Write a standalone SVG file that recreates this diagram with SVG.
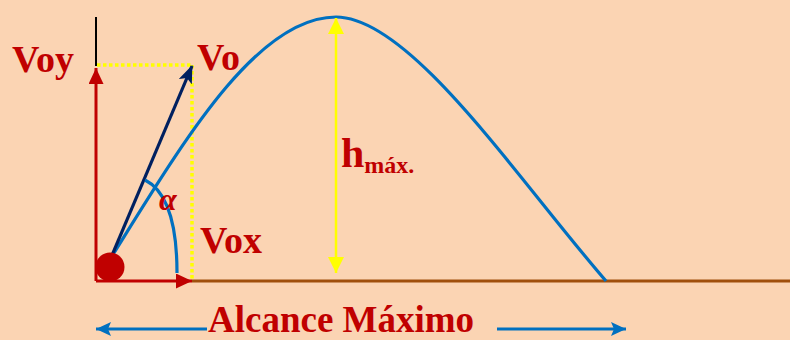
<svg xmlns="http://www.w3.org/2000/svg" width="790" height="340" viewBox="0 0 790 340">
<style>
.lbl{font-family:"Liberation Serif","Times New Roman",serif;font-weight:bold;fill:#C00000}
.dot{stroke:#FFFF00;stroke-width:3.5;stroke-dasharray:3.5 2.5;fill:none}
.curve{stroke:#0070C0;stroke-width:3.2;fill:none}
</style>
<defs>
<marker id="redHead" viewBox="0 0 16 15" refX="16" refY="7.5" markerWidth="16" markerHeight="15" markerUnits="userSpaceOnUse" orient="auto"><path d="M0,0 L16,7.5 L0,15 Z" fill="#C00000"/></marker>
<marker id="navyHead" viewBox="0 0 18 14" refX="17" refY="7" markerWidth="18" markerHeight="14" markerUnits="userSpaceOnUse" orient="auto"><path d="M0,0 L18,7 L0,14 L4,7 Z" fill="#002060"/></marker>
<marker id="yelHead" viewBox="0 0 16 16" refX="16" refY="8" markerWidth="16" markerHeight="16" markerUnits="userSpaceOnUse" orient="auto-start-reverse"><path d="M0,0 L16,8 L0,16 Z" fill="#FFFF00"/></marker>
<marker id="blueHead" viewBox="0 0 15 14" refX="15" refY="7" markerWidth="15" markerHeight="14" markerUnits="userSpaceOnUse" orient="auto"><path d="M0,0 L15,7 L0,14 L3,7 Z" fill="#0070C0"/></marker>
</defs>
<rect width="790" height="340" fill="#FBD4B3"/>
<g id="ground"><line x1="192" y1="281" x2="790" y2="281" stroke="#A04F0C" stroke-width="3"/></g>
<g id="axis"><line x1="96" y1="17" x2="96" y2="66" stroke="#000" stroke-width="2"/></g>
<g id="guides">
<line class="dot" x1="97" y1="65" x2="192" y2="65"/>
<line class="dot" x1="192" y1="65" x2="192" y2="280"/>
</g>
<g id="trajectory"><path class="curve" d="M112,256 C182,144 256,17 336,17 C410,17 516,177 606,281"/></g>
<g id="connectors">
<line x1="96" y1="281" x2="96" y2="68" stroke="#C00000" stroke-width="3" marker-end="url(#redHead)"/>
<line x1="96" y1="281" x2="192" y2="281" stroke="#C00000" stroke-width="3" marker-end="url(#redHead)"/>
<line x1="110" y1="260" x2="192" y2="66" stroke="#002060" stroke-width="3.2" marker-end="url(#navyHead)"/>
<line x1="336" y1="18" x2="336" y2="273" stroke="#FFFF00" stroke-width="2.5" marker-start="url(#yelHead)" marker-end="url(#yelHead)"/>
<line x1="207" y1="329" x2="96" y2="329" stroke="#0070C0" stroke-width="3" marker-end="url(#blueHead)"/>
<line x1="497" y1="329" x2="626" y2="329" stroke="#0070C0" stroke-width="3" marker-end="url(#blueHead)"/>
<path class="curve" d="M145,180 C165,190 177,220 177,273"/>
</g>
<g id="ball"><circle cx="110" cy="267" r="14.5" fill="#C00000"/></g>
<g id="labels">
<text class="lbl" x="12" y="72" font-size="38">Voy</text>
<text class="lbl" x="197" y="70" font-size="38">Vo</text>
<text class="lbl" x="200" y="253" font-size="38">Vox</text>
<text class="lbl" x="159" y="210" font-size="32" font-style="italic">α</text>
<text class="lbl" x="341" y="167" font-size="42">h<tspan font-size="24" dy="6">máx.</tspan></text>
<text class="lbl" x="208" y="332" font-size="37">Alcance Máximo</text>
</g>
</svg>
